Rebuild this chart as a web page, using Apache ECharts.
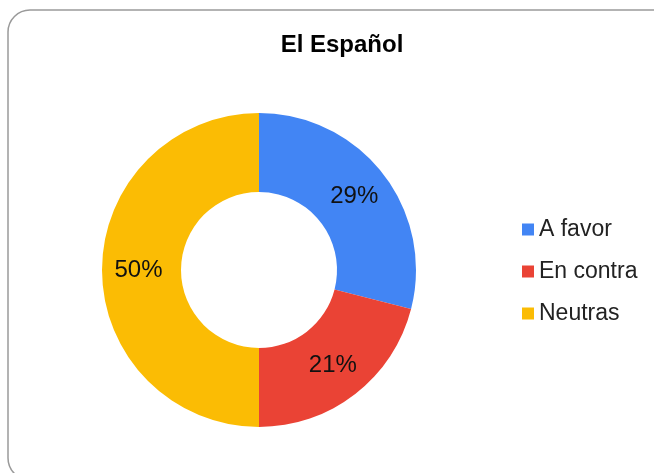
<!DOCTYPE html>
<html>
<head>
<meta charset="utf-8">
<script src="https://cdn.jsdelivr.net/npm/echarts@6/dist/echarts.min.js"></script>
<style>
    html, body { margin: 0; padding: 0; background: #fff; }
    #chart { width: 654px; height: 473px; }
</style>
</head>
<body>
<div id="chart"></div>
<script>
const titleText = "El Español";
const categories = ["A favor", "En contra", "Neutras"];
const values = [29, 21, 50];
const colorList = ["#4285F4", "#EA4335", "#FBBC04"];

const chart = echarts.init(document.getElementById("chart"));

const pieData = categories.map((name, i) => ({
    name: name,
    value: values[i],
    itemStyle: { color: colorList[i] },
}));

const option = {
    backgroundColor: "#fff",
    animation: false,
    graphic: [
        {
            type: "rect",
            shape: { x: 8, y: 10, width: 680, height: 470, r: 22 },
            style: { fill: "none", stroke: "#9a9a9a", lineWidth: 1.5 },
            z: -1,
        },
    ],
    title: {
        text: titleText,
        left: 337,
        top: 28,
        textAlign: "center",
        textStyle: {
            fontFamily: "Liberation Sans, Arial",
            fontSize: 24,
            fontWeight: "bold",
            color: "#000",
        },
    },
    legend: {
        orient: "vertical",
        left: 522,
        top: 218,
        padding: 0,
        itemWidth: 12,
        itemHeight: 12,
        itemGap: 19,
        icon: "rect",
        textStyle: {
            fontFamily: "Liberation Sans, Arial",
            fontSize: 23,
            color: "#222",
        },
        data: categories,
    },
    series: [
        {
            type: "pie",
            center: [259, 270],
            radius: [78, 157],
            startAngle: 90,
            clockwise: true,
            avoidLabelOverlap: false,
            label: {
                show: true,
                position: "inside",
                formatter: (p) => p.value + "%",
                fontFamily: "Liberation Sans, Arial",
                fontSize: 24,
                color: "#111",
                textBorderWidth: 0,
            },
            labelLine: { show: false },
            emphasis: { disabled: true },
            data: pieData,
        },
    ],
};

chart.setOption(option);
</script>
</body>
</html>
